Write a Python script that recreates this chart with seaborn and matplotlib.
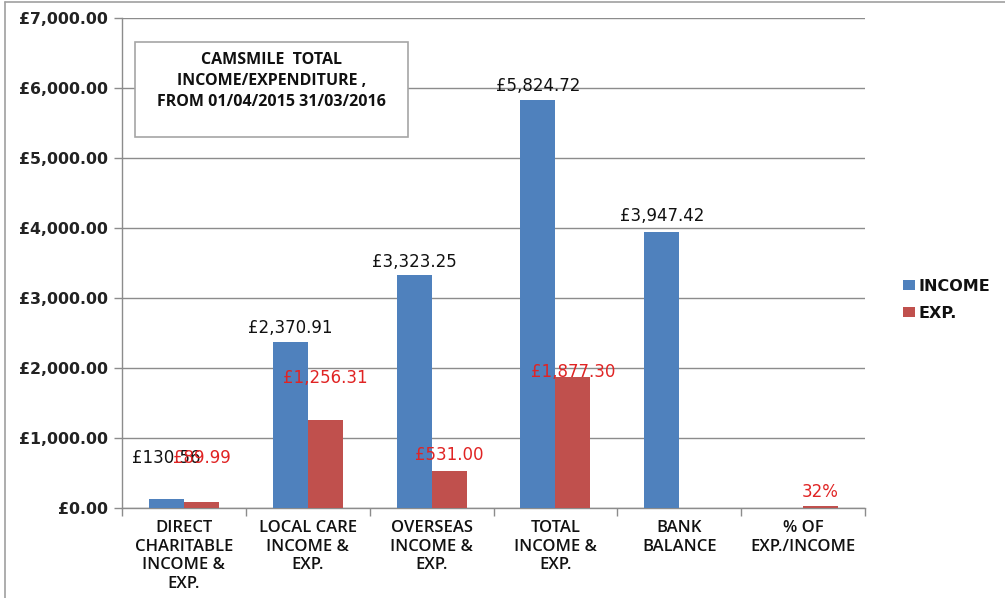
import matplotlib
matplotlib.use("Agg")
import matplotlib.pyplot as plt
import seaborn as sns
import pandas as pd
import numpy as np
from matplotlib.patches import Rectangle, Patch
from matplotlib.lines import Line2D

categories = ["DIRECT\nCHARITABLE\nINCOME &\nEXP.", "LOCAL CARE\nINCOME &\nEXP.",
              "OVERSEAS\nINCOME &\nEXP.", "TOTAL\nINCOME &\nEXP.", "BANK\nBALANCE",
              "% OF\nEXP./INCOME"]
income = [130.56, 2370.91, 3323.25, 5824.72, 3947.42, np.nan]
expense = [89.99, 1256.31, 531.00, 1877.30, np.nan, 32]
income_labels = ["£130.56", "£2,370.91", "£3,323.25", "£5,824.72", "£3,947.42", ""]
expense_labels = ["£89.99", "£1,256.31", "£531.00", "£1,877.30", "", "32%"]
# manual label positions (data units, label centre) as placed in the original
income_label_y = [714, 2570, 3520, 6030, 4170, None]
expense_label_y = [714, 1857, 757, 1943, None, 229]
yticks = [0, 1000, 2000, 3000, 4000, 5000, 6000, 7000]
ytick_labels = ["£0.00", "£1,000.00", "£2,000.00", "£3,000.00", "£4,000.00",
                "£5,000.00", "£6,000.00", "£7,000.00"]
series = ["INCOME", "EXP."]

BLUE = "#4F81BD"
RED = "#C0504D"
LABEL_RED = "#E02424"
GRID = "#8C8C8C"

df = pd.DataFrame({
    "category": categories * 2,
    "series": ["INCOME"] * len(categories) + ["EXP."] * len(categories),
    "value": income + expense,
})

sns.set_theme(style="white")
plt.rcParams["font.family"] = ["DejaVu Sans"]

fig = plt.figure(figsize=(10.05, 5.98), dpi=100)
ax = fig.add_axes([122 / 1005, 1 - 508 / 598, (865 - 122) / 1005, (508 - 18) / 598])

sns.barplot(data=df, x="category", y="value", hue="series", order=categories,
            hue_order=series, palette=[BLUE, RED], width=0.565, saturation=1,
            ax=ax, legend=False, zorder=3, linewidth=0, edgecolor="none")

ax.set_ylim(0, 7000)
ax.set_xlim(-0.5, len(categories) - 0.5)
ax.set_yticks(yticks)
ax.set_yticklabels(ytick_labels, fontsize=11.3, fontweight="bold", color="#222222")
ax.yaxis.grid(True, color=GRID, linewidth=1, zorder=0)
ax.set_axisbelow(True)
ax.set_xlabel("")
ax.set_ylabel("")

for s in ["top", "right"]:
    ax.spines[s].set_visible(False)
for s in ["left", "bottom"]:
    ax.spines[s].set_color(GRID)
    ax.spines[s].set_linewidth(1)

ax.tick_params(axis="y", which="major", left=True, length=6, width=1, color=GRID, pad=4)
# x ticks at category boundaries
ax.set_xticks(np.arange(len(categories)))
ax.set_xticklabels(categories, fontsize=12, family=["Open Sans", "DejaVu Sans"],
                   fontweight="semibold", color="#111111", linespacing=1.2, va="top")
ax.tick_params(axis="x", which="major", bottom=False, pad=3)
ax.set_xticks(np.arange(len(categories) + 1) - 0.5, minor=True)
ax.tick_params(axis="x", which="minor", bottom=True, length=6, width=1, color=GRID)

# data labels
bw = 0.565 / 2
for i in range(len(categories)):
    if income_labels[i]:
        ax.text(i - bw / 2, income_label_y[i], income_labels[i], ha="center", va="center",
                fontsize=12, color="#111111", zorder=5)
    if expense_labels[i]:
        ax.text(i + bw / 2, expense_label_y[i], expense_labels[i], ha="center", va="center",
                fontsize=12, color=LABEL_RED, zorder=5)

# title box
x0 = (135 - 122) / 743
x1 = (408 - 122) / 743
y0 = (508 - 137) / 490
y1 = (508 - 42) / 490
ax.add_patch(Rectangle((x0, y0), x1 - x0, y1 - y0, transform=ax.transAxes,
                       facecolor="white", edgecolor="#A6A6A6", linewidth=1.2, zorder=6))
ax.text((x0 + x1) / 2, (508 - 81) / 490,
        "CAMSMILE  TOTAL\nINCOME/EXPENDITURE ,\nFROM 01/04/2015 31/03/2016",
        transform=ax.transAxes, ha="center", va="center", fontsize=11.5,
        fontweight="bold", family=["Open Sans", "DejaVu Sans"], linespacing=1.45,
        color="#111111", zorder=7)

# legend
handles = [Patch(facecolor=BLUE, edgecolor="none"), Patch(facecolor=RED, edgecolor="none")]
leg = fig.legend(handles, series, loc="center left", bbox_to_anchor=(889 / 1005, 1 - 300 / 598),
                 frameon=False, handlelength=0.75, handleheight=0.6, handletextpad=0.2,
                 labelspacing=0.75, prop={"size": 11.5, "weight": "bold"})
for t in leg.get_texts():
    t.set_color("#111111")

# outer chart border (top and left visible)
fig.add_artist(Line2D([5 / 1005, 5 / 1005], [0, 1 - 2 / 598], color="#A0A0A0", linewidth=1.2))
fig.add_artist(Line2D([5 / 1005, 1], [1 - 2 / 598, 1 - 2 / 598], color="#A0A0A0", linewidth=1.2))

fig.savefig("out.png", dpi=100, facecolor="white")
